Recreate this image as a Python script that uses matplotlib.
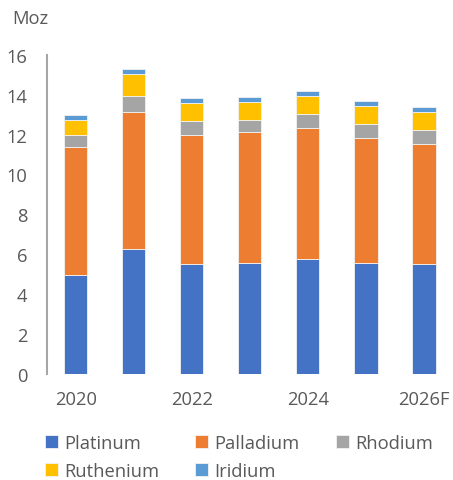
import matplotlib.pyplot as plt
import numpy as np

years = ["2020", "2021", "2022", "2023", "2024", "2025", "2026F"]
tick_labels = ["2020", "", "2022", "", "2024", "", "2026F"]
platinum = [4.97, 6.27, 5.50, 5.57, 5.76, 5.53, 5.50]
palladium = [6.43, 6.88, 6.47, 6.54, 6.58, 6.31, 6.04]
rhodium = [0.60, 0.80, 0.71, 0.64, 0.71, 0.70, 0.67]
ruthenium = [0.75, 1.09, 0.92, 0.88, 0.90, 0.89, 0.94]
iridium = [0.23, 0.26, 0.24, 0.24, 0.25, 0.26, 0.25]

series = [
    ("Platinum", platinum, "#4472C4"),
    ("Palladium", palladium, "#ED7D31"),
    ("Rhodium", rhodium, "#A5A5A5"),
    ("Ruthenium", ruthenium, "#FFC000"),
    ("Iridium", iridium, "#5B9BD5"),
]

TEXT = "#595959"
FS = 13.2
plt.rcParams["font.family"] = ["Open Sans", "DejaVu Sans"]

fig = plt.figure(figsize=(4.53, 4.81), dpi=100)
ax = fig.add_axes([0.103, 0.2214, 0.897, 0.6622])

x = np.arange(len(years))
bottom = np.zeros(len(years))
handles = {}
for name, vals, color in series:
    b = ax.bar(x, vals, width=0.40, bottom=bottom, color=color,
               edgecolor="#f2f2f2", linewidth=0.6, label=name)
    handles[name] = b
    bottom += np.array(vals)

ax.set_xlim(-0.5, len(years) - 0.5)
ax.set_ylim(0, 16)
ax.set_yticks(range(0, 17, 2))
ax.set_xticks(x)
ax.set_xticklabels(tick_labels)

for s in ["top", "right", "bottom"]:
    ax.spines[s].set_visible(False)
ax.spines["left"].set_color("#a6a6a6")
ax.spines["left"].set_linewidth(1.5)
ax.tick_params(axis="y", length=0, pad=14, labelsize=FS, labelcolor=TEXT)
ax.tick_params(axis="x", length=0, pad=12, labelsize=FS, labelcolor=TEXT)

fig.text(0.026, 0.960, "Moz", fontsize=FS, color=TEXT, va="center", ha="left")

order = ["Platinum", "Ruthenium", "Palladium", "Iridium", "Rhodium"]
fig.legend([handles[n] for n in order], order, ncol=3, loc="upper left",
           bbox_to_anchor=(0.100, 0.096), frameon=False, fontsize=FS,
           labelcolor=TEXT, handlelength=0.7, handleheight=0.7,
           handletextpad=0.35, columnspacing=1.95, labelspacing=0.55,
           borderaxespad=0, borderpad=0)

fig.savefig("out.png", dpi=100)
